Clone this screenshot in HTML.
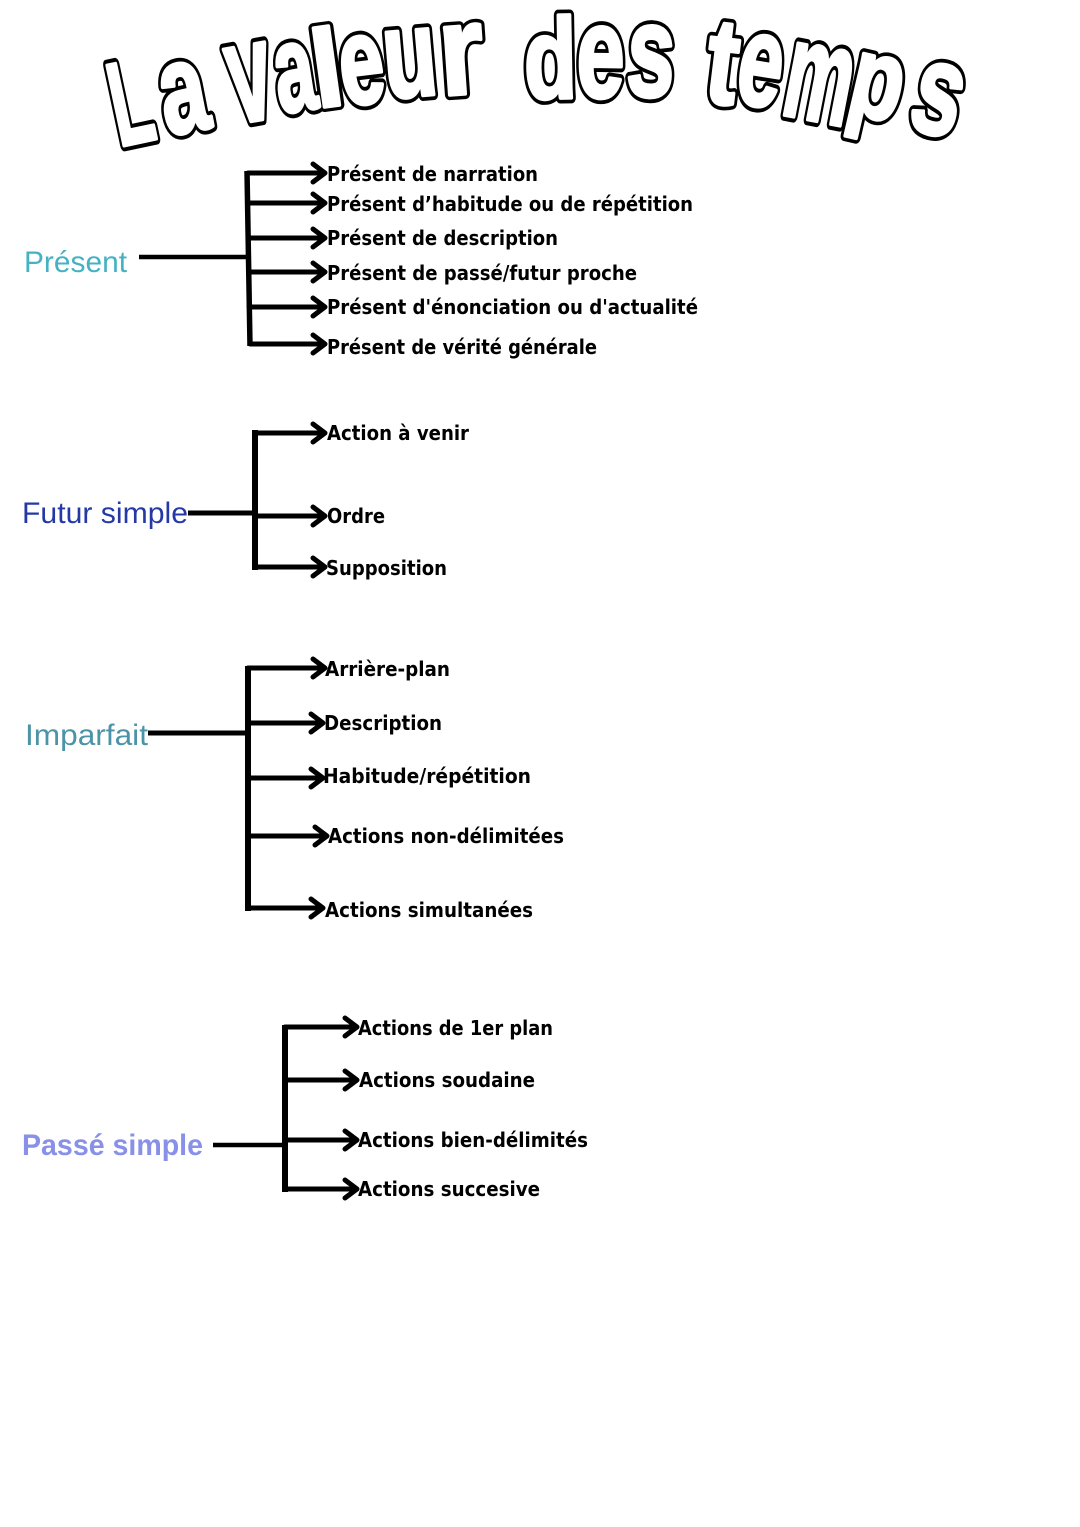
<!DOCTYPE html>
<html>
<head>
<meta charset="utf-8">
<style>
  html, body { margin: 0; padding: 0; background: #ffffff; }
  body { width: 1080px; height: 1527px; overflow: hidden; }
  svg { display: block; }
  .tb { font-family: "Liberation Sans", "DejaVu Sans", sans-serif; font-weight: bold; font-size: 100px; fill: #000000; stroke: #000000; stroke-width: 10; stroke-linejoin: round; text-anchor: middle; }
  .tw { font-family: "Liberation Sans", "DejaVu Sans", sans-serif; font-weight: bold; font-size: 100px; fill: #ffffff; stroke: #ffffff; stroke-width: 3.5; stroke-linejoin: round; text-anchor: middle; }
  .it { font-family: "DejaVu Sans", "Liberation Sans", sans-serif; font-weight: bold; font-size: 20px; fill: #000000; }
  .lbl { font-family: "Liberation Sans", "DejaVu Sans", sans-serif; font-size: 30px; }
  .ln { stroke: #000000; fill: none; }
  .ar { stroke: #000000; fill: none; stroke-width: 5; stroke-linecap: round; stroke-linejoin: round; }
</style>
</head>
<body>
<svg width="1080" height="1527" viewBox="0 0 1080 1527" xmlns="http://www.w3.org/2000/svg">
  <rect x="0" y="0" width="1080" height="1527" fill="#ffffff"/>

  <!-- Title: black outline layer -->
  <g>
    <text class="tb" vector-effect="non-scaling-stroke" transform="translate(139,142) rotate(-12) scale(0.66,1.18)">L</text>
    <text class="tb" vector-effect="non-scaling-stroke" transform="translate(190,131) rotate(-11) scale(0.84,1.27)">a</text>
    <text class="tb" vector-effect="non-scaling-stroke" transform="translate(257,120) rotate(-10) scale(0.78,1.42)">v</text>
    <text class="tb" vector-effect="non-scaling-stroke" transform="translate(300,110) rotate(-9) scale(0.72,1.23)">a</text>
    <text class="tb" vector-effect="non-scaling-stroke" transform="translate(332,106) rotate(-8) scale(1.1,1.1)">l</text>
    <text class="tb" vector-effect="non-scaling-stroke" transform="translate(366,103) rotate(-7) scale(0.8,1.24)">e</text>
    <text class="tb" vector-effect="non-scaling-stroke" transform="translate(413,96) rotate(-5) scale(0.88,1.24)">u</text>
    <text class="tb" vector-effect="non-scaling-stroke" transform="translate(464,94) rotate(-4) scale(1.15,1.28)">r</text>
    <text class="tb" vector-effect="non-scaling-stroke" transform="translate(551,98) rotate(-1) scale(0.86,1.14)">d</text>
    <text class="tb" vector-effect="non-scaling-stroke" transform="translate(600,97) rotate(1) scale(0.86,1.3)">e</text>
    <text class="tb" vector-effect="non-scaling-stroke" transform="translate(649,96) rotate(3) scale(0.86,1.3)">s</text>
    <text class="tb" vector-effect="non-scaling-stroke" transform="translate(718,103) rotate(7) scale(0.95,1.22)">t</text>
    <text class="tb" vector-effect="non-scaling-stroke" transform="translate(755,105) rotate(9) scale(0.8,1.3)">e</text>
    <text class="tb" vector-effect="non-scaling-stroke" transform="translate(812,120) rotate(11) scale(0.76,1.37)">m</text>
    <text class="tb" vector-effect="non-scaling-stroke" transform="translate(870,117) rotate(13) scale(0.86,1.14)">p</text>
    <text class="tb" vector-effect="non-scaling-stroke" transform="translate(929,133) rotate(15) scale(0.88,1.3)">s</text>
  </g>
  <!-- Title: white fill layer -->
  <g>
    <text class="tw" vector-effect="non-scaling-stroke" transform="translate(139,142) rotate(-12) scale(0.66,1.18)">L</text>
    <text class="tw" vector-effect="non-scaling-stroke" transform="translate(190,131) rotate(-11) scale(0.84,1.27)">a</text>
    <text class="tw" vector-effect="non-scaling-stroke" transform="translate(257,120) rotate(-10) scale(0.78,1.42)">v</text>
    <text class="tw" vector-effect="non-scaling-stroke" transform="translate(300,110) rotate(-9) scale(0.72,1.23)">a</text>
    <text class="tw" vector-effect="non-scaling-stroke" transform="translate(332,106) rotate(-8) scale(1.1,1.1)">l</text>
    <text class="tw" vector-effect="non-scaling-stroke" transform="translate(366,103) rotate(-7) scale(0.8,1.24)">e</text>
    <text class="tw" vector-effect="non-scaling-stroke" transform="translate(413,96) rotate(-5) scale(0.88,1.24)">u</text>
    <text class="tw" vector-effect="non-scaling-stroke" transform="translate(464,94) rotate(-4) scale(1.15,1.28)">r</text>
    <text class="tw" vector-effect="non-scaling-stroke" transform="translate(551,98) rotate(-1) scale(0.86,1.14)">d</text>
    <text class="tw" vector-effect="non-scaling-stroke" transform="translate(600,97) rotate(1) scale(0.86,1.3)">e</text>
    <text class="tw" vector-effect="non-scaling-stroke" transform="translate(649,96) rotate(3) scale(0.86,1.3)">s</text>
    <text class="tw" vector-effect="non-scaling-stroke" transform="translate(718,103) rotate(7) scale(0.95,1.22)">t</text>
    <text class="tw" vector-effect="non-scaling-stroke" transform="translate(755,105) rotate(9) scale(0.8,1.3)">e</text>
    <text class="tw" vector-effect="non-scaling-stroke" transform="translate(812,120) rotate(11) scale(0.76,1.37)">m</text>
    <text class="tw" vector-effect="non-scaling-stroke" transform="translate(870,117) rotate(13) scale(0.86,1.14)">p</text>
    <text class="tw" vector-effect="non-scaling-stroke" transform="translate(929,133) rotate(15) scale(0.88,1.3)">s</text>
  </g>

  <!-- Présent -->
  <text class="lbl" x="24" y="272" fill="#45b2c3" textLength="103" lengthAdjust="spacingAndGlyphs">Présent</text>
  <path class="ln" stroke-width="4.5" d="M139,257 H249"/>
  <path class="ln" stroke-width="5.5" d="M247,171 L250,346"/>
  <path class="ar" d="M248,173 H323 M313,164 L325,173 L313,182"/>
  <path class="ar" d="M248,203 H323 M313,194 L325,203 L313,212"/>
  <path class="ar" d="M248,238 H323 M313,229 L325,238 L313,247"/>
  <path class="ar" d="M249,272 H323 M313,263 L325,272 L313,281"/>
  <path class="ar" d="M249,307 H323 M313,298 L325,307 L313,316"/>
  <path class="ar" d="M250,344 H323 M313,335 L325,344 L313,353"/>
  <text class="it" x="327" y="181" textLength="211" lengthAdjust="spacingAndGlyphs">Présent de narration</text>
  <text class="it" x="327" y="211" textLength="366" lengthAdjust="spacingAndGlyphs">Présent d’habitude ou de répétition</text>
  <text class="it" x="327" y="245" textLength="231" lengthAdjust="spacingAndGlyphs">Présent de description</text>
  <text class="it" x="327" y="280" textLength="310" lengthAdjust="spacingAndGlyphs">Présent de passé/futur proche</text>
  <text class="it" x="327" y="314" textLength="371" lengthAdjust="spacingAndGlyphs">Présent d'énonciation ou d'actualité</text>
  <text class="it" x="327" y="354" textLength="270" lengthAdjust="spacingAndGlyphs">Présent de vérité générale</text>

  <!-- Futur simple -->
  <text class="lbl" x="22" y="523" fill="#2539a6" font-size="29" textLength="166" lengthAdjust="spacingAndGlyphs">Futur simple</text>
  <path class="ln" stroke-width="5" d="M188,513 H255"/>
  <path class="ln" stroke-width="6" d="M255,430 V570"/>
  <path class="ar" d="M255,433 H323 M313,424 L325,433 L313,442"/>
  <path class="ar" d="M255,516 H323 M313,507 L325,516 L313,525"/>
  <path class="ar" d="M255,567 H323 M313,558 L325,567 L313,576"/>
  <text class="it" x="327" y="440" textLength="142" lengthAdjust="spacingAndGlyphs">Action à venir</text>
  <text class="it" x="327" y="523" textLength="58" lengthAdjust="spacingAndGlyphs">Ordre</text>
  <text class="it" x="326" y="575" textLength="121" lengthAdjust="spacingAndGlyphs">Supposition</text>

  <!-- Imparfait -->
  <text class="lbl" x="25" y="745" fill="#4b93a6" font-size="29" textLength="123" lengthAdjust="spacingAndGlyphs">Imparfait</text>
  <path class="ln" stroke-width="5" d="M148,733 H248"/>
  <path class="ln" stroke-width="6" d="M248,666 V911"/>
  <path class="ar" d="M248,668 H323 M313,659 L325,668 L313,677"/>
  <path class="ar" d="M248,723 H321 M311,714 L323,723 L311,732"/>
  <path class="ar" d="M248,778 H321 M311,769 L323,778 L311,787"/>
  <path class="ar" d="M248,836 H325 M315,827 L327,836 L315,845"/>
  <path class="ar" d="M248,908 H321 M311,899 L323,908 L311,917"/>
  <text class="it" x="325" y="676" textLength="125" lengthAdjust="spacingAndGlyphs">Arrière-plan</text>
  <text class="it" x="324" y="730" textLength="118" lengthAdjust="spacingAndGlyphs">Description</text>
  <text class="it" x="323" y="783" textLength="208" lengthAdjust="spacingAndGlyphs">Habitude/répétition</text>
  <text class="it" x="328" y="843" textLength="236" lengthAdjust="spacingAndGlyphs">Actions non-délimitées</text>
  <text class="it" x="325" y="917" textLength="208" lengthAdjust="spacingAndGlyphs">Actions simultanées</text>

  <!-- Passé simple -->
  <text class="lbl" x="22" y="1155" fill="#8890e8" font-size="28" font-weight="bold" textLength="181" lengthAdjust="spacingAndGlyphs">Passé simple</text>
  <path class="ln" stroke-width="4.5" d="M213,1145 H285"/>
  <path class="ln" stroke-width="6" d="M285,1025 V1192"/>
  <path class="ar" d="M285,1027 H355 M345,1018 L357,1027 L345,1036"/>
  <path class="ar" d="M285,1080 H355 M345,1071 L357,1080 L345,1089"/>
  <path class="ar" d="M285,1140 H355 M345,1131 L357,1140 L345,1149"/>
  <path class="ar" d="M285,1189 H355 M345,1180 L357,1189 L345,1198"/>
  <text class="it" x="358" y="1035" textLength="195" lengthAdjust="spacingAndGlyphs">Actions de 1er plan</text>
  <text class="it" x="359" y="1087" textLength="176" lengthAdjust="spacingAndGlyphs">Actions soudaine</text>
  <text class="it" x="358" y="1147" textLength="230" lengthAdjust="spacingAndGlyphs">Actions bien-délimités</text>
  <text class="it" x="358" y="1196" textLength="182" lengthAdjust="spacingAndGlyphs">Actions succesive</text>
</svg>
</body>
</html>
